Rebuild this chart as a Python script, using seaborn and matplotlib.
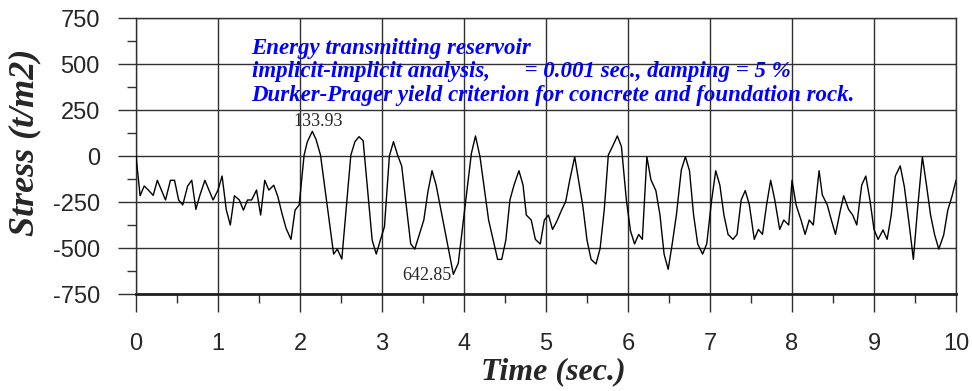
import matplotlib
matplotlib.use("Agg")
import matplotlib.pyplot as plt
from matplotlib.ticker import MultipleLocator, FixedLocator
import pandas as pd
import seaborn as sns

# Stress time history (t/m2) versus time (sec.)
time_s = [
    0.00, 0.05, 0.10, 0.15, 0.21, 0.26, 0.31, 0.36, 0.42, 0.47,
    0.52, 0.57, 0.63, 0.68, 0.73, 0.78, 0.84, 0.89, 0.94, 1.00,
    1.05, 1.10, 1.15, 1.20, 1.26, 1.31, 1.36, 1.41, 1.47, 1.52,
    1.57, 1.62, 1.68, 1.73, 1.78, 1.83, 1.89, 1.94, 1.99,
    2.05, 2.09, 2.15, 2.195, 2.25, 2.41, 2.455, 2.51, 2.62, 2.67,
    2.72, 2.77, 2.88, 2.93, 2.98, 3.03, 3.09, 3.14, 3.19, 3.24,
    3.35, 3.40, 3.51, 3.56, 3.61, 3.66, 3.87, 3.93,
    4.09, 4.14, 4.195, 4.30, 4.41, 4.46, 4.51, 4.56, 4.61, 4.67,
    4.72, 4.76, 4.82, 4.87, 4.93, 4.98, 5.03, 5.08, 5.13, 5.19,
    5.24, 5.29, 5.35, 5.39, 5.45, 5.50, 5.55, 5.61, 5.66, 5.71,
    5.76, 5.81, 5.87, 5.92, 5.98, 6.03,
    6.08, 6.13, 6.175, 6.23, 6.28, 6.34, 6.39, 6.44, 6.49, 6.54,
    6.59, 6.65, 6.70, 6.75, 6.80, 6.85, 6.91, 6.96, 7.02, 7.07,
    7.12, 7.17, 7.22, 7.28, 7.33, 7.38, 7.43, 7.48, 7.54, 7.59,
    7.64, 7.69, 7.74, 7.79, 7.85, 7.90, 7.96,
    8.00, 8.05, 8.11, 8.16, 8.21, 8.26, 8.33, 8.37, 8.43, 8.48,
    8.53, 8.59, 8.63, 8.69, 8.74, 8.79, 8.85, 8.90, 8.95, 9.00,
    9.05, 9.11, 9.16, 9.21, 9.26, 9.32, 9.37, 9.43, 9.48, 9.53,
    9.59, 9.64, 9.69, 9.74, 9.79, 9.85, 9.90, 9.95, 10.00,
]
stress = [
    0, -216, -163, -185, -214, -132, -185, -239, -132, -132,
    -239, -266, -163, -132, -290, -212, -132, -185, -239, -185,
    -109, -290, -375, -216, -239, -294, -239, -239, -185, -321,
    -132, -185, -159, -221, -312, -393, -453, -294, -266,
    5, 78, 133.93, 91, 5, -533, -506, -560, 5, 78,
    105, 83, -457, -533, -457, -384, 0, 78, 5, -54,
    -478, -506, -348, -194, -80, -158, -642.85, -583,
    14, 109, -4, -348, -562, -562, -457, -239, -158, -80,
    -158, -321, -348, -453, -478, -348, -321, -399, -357, -294,
    -248, -130, -4, -112, -275, -457, -562, -587, -502, -294,
    5, 51, 109, 51, -239, -406,
    -478, -426, -453, -4, -130, -188, -321, -533, -616, -475,
    -321, -76, -4, -80, -321, -478, -533, -478, -239, -80,
    -158, -321, -426, -453, -426, -239, -188, -266, -453, -399,
    -426, -266, -132, -239, -399, -348, -375,
    -132, -266, -348, -426, -348, -375, -80, -212, -266, -348,
    -426, -294, -216, -290, -321, -375, -158, -109, -239, -399,
    -453, -402, -453, -321, -109, -54, -167, -375, -562, -294,
    -4, -158, -321, -429, -506, -429, -294, -221, -132,
]

peak_time, peak_value = 2.15, 133.93
trough_time, trough_value = 3.87, -642.85

x_ticks = [0, 1, 2, 3, 4, 5, 6, 7, 8, 9, 10]
y_ticks = [-750, -500, -250, 0, 250, 500, 750]

note_lines = [
    "Energy transmitting reservoir",
    "implicit-implicit analysis,      = 0.001 sec., damping = 5 %",
    "Durker-Prager yield criterion for concrete and foundation rock.",
]

sns.set_style("white")
plt.rcParams["font.family"] = ["Liberation Sans", "DejaVu Sans"]
plt.rcParams["axes.unicode_minus"] = False

df = pd.DataFrame({"Time": time_s, "Stress": stress})

fig = plt.figure(figsize=(9.72, 3.91), dpi=100)
ax = fig.add_axes([0.13992, 0.24808, 0.84362, 0.70588])

sns.lineplot(data=df, x="Time", y="Stress", ax=ax, color="black",
             linewidth=1.0, sort=False, zorder=3)

ax.set_xlim(0, 10)
ax.set_ylim(-750, 750)
ax.xaxis.set_major_locator(FixedLocator(x_ticks))
ax.yaxis.set_major_locator(FixedLocator(y_ticks))
ax.xaxis.set_minor_locator(MultipleLocator(0.5))
ax.yaxis.set_minor_locator(MultipleLocator(125))
ax.set_xticklabels([str(v) for v in x_ticks])
ax.set_yticklabels([str(v) for v in y_ticks])

ax.grid(True, which="major", color="#303030", linewidth=1.0)
for side in ["top", "right", "left"]:
    ax.spines[side].set_color("#303030")
    ax.spines[side].set_linewidth(1.0)
ax.spines["bottom"].set_color("#202020")
ax.spines["bottom"].set_linewidth(2.0)

ax.tick_params(axis="both", which="major", direction="out", length=13,
               width=1.0, color="#303030", labelsize=17)
ax.tick_params(axis="both", which="minor", direction="out", length=6.5,
               width=1.0, color="#303030")
ax.tick_params(axis="x", which="major", pad=15)
ax.tick_params(axis="y", which="major", pad=13)
ax.tick_params(axis="x", which="both", bottom=True, top=False)
ax.tick_params(axis="y", which="both", left=True, right=False)

serif_bi = dict(family=["Liberation Serif", "DejaVu Serif"],
                weight="bold", style="italic")
ax.set_xlabel("Time (sec.)", fontsize=23, **serif_bi)
ax.set_ylabel("Stress (t/m2)", fontsize=26, **serif_bi)
ax.xaxis.set_label_coords(0.5085, -0.228)
ax.yaxis.set_label_coords(-0.115, 0.55)

# Description of the analysis in blue
for i, line in enumerate(note_lines):
    ax.text(1.41, 0.870 - i * 0.0855, line, transform=ax.get_xaxis_transform(),
            fontsize=16.5, color="#0000FF", ha="left", va="baseline",
            zorder=4, **serif_bi)

# Extreme values
ax.text(peak_time + 0.07, peak_value + 30, f"{peak_value:.2f}",
        family=["Liberation Serif", "DejaVu Serif"], fontsize=13,
        ha="center", va="baseline", zorder=4)
ax.text(trough_time - 0.32, trough_value - 32, f"{abs(trough_value):.2f}",
        family=["Liberation Serif", "DejaVu Serif"], fontsize=13,
        ha="center", va="baseline", zorder=4)

fig.savefig("out.png", dpi=100)
